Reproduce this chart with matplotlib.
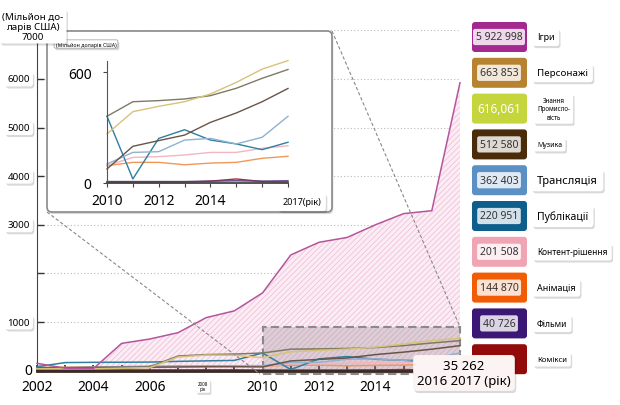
import matplotlib
matplotlib.use("Agg")
import matplotlib.pyplot as plt
import matplotlib.patheffects as pe
from matplotlib.patches import FancyBboxPatch, Rectangle

plt.rcParams['font.family'] = ['Noto Sans', 'DejaVu Sans']
plt.rcParams['hatch.linewidth'] = 0.6

# data (million USD)
YEARS = list(range(2002, 2018))
CATEGORIES = ["Ігри", "Персонажі", "Знання\nПромисло-\nвість", "Музика", "Трансляція",
              "Публікації", "Контент-рішення", "Анімація", "Фільми", "Комікси"]
VALUE_LABELS = ["5 922 998", "663 853", "616,061", "512 580", "362 403",
                "220 951", "201 508", "144 870", "40 726", "35 262"]
GAMES = [150, 50, 40, 560, 650, 780, 1090, 1230, 1600, 2380, 2640, 2740, 3000, 3230, 3290, 5923]
CHARACTERS = [40, 40, 40, 50, 60, 280, 320, 315, 266, 387, 416, 441, 483, 546, 618, 664]
KNOWLEDGE = [30, 30, 30, 40, 80, 300, 330, 340, 362, 441, 447, 456, 474, 514, 568, 616]
MUSIC = [60, 60, 65, 70, 70, 75, 80, 80, 76, 199, 230, 260, 329, 380, 441, 513]
BROADCAST = [50, 60, 70, 80, 90, 95, 100, 100, 103, 166, 170, 233, 242, 212, 248, 362]
PUBLISHING = [80, 165, 170, 172, 175, 190, 200, 210, 362, 22, 242, 289, 233, 212, 181, 221]
CONTENT = [40, 45, 50, 55, 60, 70, 80, 90, 94, 139, 143, 152, 166, 166, 188, 202]
ANIMATION = [60, 70, 75, 80, 85, 90, 90, 95, 94, 112, 112, 99, 108, 112, 134, 145]
FILMS = [10, 10, 10, 12, 12, 12, 14, 14, 8, 8, 8, 8, 10, 12, 10, 12]
COMICS = [5, 5, 5, 6, 6, 6, 6, 6, 4, 4, 4, 5, 10, 22, 8, 6]
SERIES = [GAMES, CHARACTERS, KNOWLEDGE, MUSIC, BROADCAST, PUBLISHING, CONTENT, ANIMATION, FILMS, COMICS]

BOX_COLORS = ['#a3288f', '#b88330', '#c4d63c', '#4a2c0a', '#5b90c4',
              '#0e5e8c', '#f0a5b5', '#f25c05', '#3a1873', '#930a0a']
LINE_COLORS = ['#b4569c', '#d8c27a', '#7d7a63', '#6a5448', '#8fb2d0',
               '#2f7fa0', '#f2b6c2', '#f0975a', '#5a3a80', '#a33030']
NAME_SIZES = [6.5, 7, 4.5, 5, 8, 7.5, 6, 6.5, 6, 5.5]

W, H = 620, 406
shadow = [pe.withSimplePatchShadow(offset=(1, -1.5), shadow_rgbFace='k', alpha=0.15)]


def boxed(axx, x, y, s, size, ha='center', fc='white', ec='none', pad=0.3, z=5, **kw):
    t = axx.text(x, y, s, fontsize=size, ha=ha, va='center', zorder=z,
                 bbox=dict(boxstyle=f'round,pad={pad},rounding_size=0.3', fc=fc, ec=ec, lw=0.5), **kw)
    t.get_bbox_patch().set_path_effects(shadow)
    return t


fig = plt.figure(figsize=(W / 100, H / 100), dpi=100)

# ---- main chart
ax = fig.add_axes([37 / W, (H - 371.6) / H, 423 / W, 340.2 / H], zorder=1)
ax.set_xlim(2002, 2017)
ax.set_ylim(0, 7000)
ax.patch.set_alpha(0)
for k in (1000, 2000, 3000, 4000, 5000, 6000, 7000):
    ax.axhline(k, color='#bbbbbb', lw=0.8, ls=(0, (1, 2)), zorder=0)
ax.fill_between(YEARS, 0, GAMES, facecolor='#fcedf5', edgecolor='#efc2da', hatch='//////', lw=0, zorder=1)
ax.add_patch(Rectangle((2010, -80), 7, 970, fc=(0.55, 0.5, 0.52, 0.28), ec='#8a8a8a',
                       ls=(0, (4, 2)), lw=1.5, clip_on=False, zorder=2))
for vals, c in zip(SERIES[::-1], LINE_COLORS[::-1]):
    ax.plot(YEARS, vals, color=c, lw=1.1, zorder=3, clip_on=False)
for s in ('top', 'right'):
    ax.spines[s].set_visible(False)
ax.spines['left'].set_color('#444444')
ax.spines['bottom'].set_color('#3a2a20')
ax.spines['bottom'].set_linewidth(2)
ax.spines['bottom'].set_zorder(4)
ax.set_xticks(YEARS)
ax.set_xticklabels([str(y) if y in (2002, 2004, 2006, 2010, 2012, 2014) else '' for y in YEARS], fontsize=10)
ax.tick_params(axis='x', direction='in', length=4, width=1.2, color='#3a2a20', pad=6)
ax.set_yticks([0, 1000, 2000, 3000, 4000, 5000, 6000, 7000])
ax.set_yticklabels([])
ax.tick_params(axis='y', direction='in', length=5, width=1, color='#333333')
ax.text(-0.012, 0, '0', transform=ax.get_yaxis_transform(), ha='right', va='center', fontsize=10)
for k in (1000, 3000, 4000, 5000, 6000):
    boxed(ax, -0.043, k, str(k), 7, transform=ax.get_yaxis_transform())

# ---- overlay in pixel coordinates
ov = fig.add_axes([0, 0, 1, 1], zorder=2)
ov.set_xlim(0, W)
ov.set_ylim(H, 0)
ov.axis('off')
ov.patch.set_alpha(0)

ov.plot([332, 460], [32, 328], color='#888888', lw=0.8, ls=(0, (3, 2)), zorder=1)
ov.plot([47, 260], [213, 375], color='#888888', lw=0.8, ls=(0, (3, 2)), zorder=1)
frame = FancyBboxPatch((47, 32), 285, 181, boxstyle='round,pad=0,rounding_size=5',
                       fc='white', ec='#8a8a8a', lw=1.2, zorder=2)
frame.set_path_effects(shadow)
ov.add_patch(frame)

boxed(ov, 33, 27, '(Мільйон до-\nларів США)\n7000', 7, pad=0.3, z=6, linespacing=1.15)
boxed(ov, 203, 387, '2008\nрік', 3.2, pad=0.4, linespacing=1.0)
boxed(ov, 86, 45, '(Мільйон доларів США)', 3.8, ec='#999999', pad=0.3)
boxed(ov, 302, 203, '2017(рік)', 6.5, pad=0.5)

for i, (name, val, c) in enumerate(zip(CATEGORIES, VALUE_LABELS, BOX_COLORS)):
    cy = 38 + i * 35.8
    ov.add_patch(FancyBboxPatch((472, cy - 15), 55, 30, boxstyle='round,pad=0,rounding_size=3',
                                fc=c, ec='none', zorder=3))
    if i == 2:
        ov.text(499, cy, val, fontsize=8.5, color='white', ha='center', va='center', zorder=4)
    elif i < 9:
        ov.text(499, cy, val, fontsize=7.5, color='#333333', ha='center', va='center', zorder=4,
                bbox=dict(boxstyle='round,pad=0.25,rounding_size=0.2', fc=(1, 1, 1, 0.82), ec='none'))
    boxed(ov, 537, cy, name, NAME_SIZES[i], ha='left', pad=0.5, z=4,
          linespacing=1.3, multialignment='center')

boxed(ov, 464, 374, f'{VALUE_LABELS[9]}\n2016 2017 (рік)', 9.5, fc='#fbf4f3', pad=0.3, z=8,
      linespacing=1.2)

# ---- inset
axi = fig.add_axes([107 / W, (H - 184) / H, 181 / W, 122 / H], zorder=3)
axi.patch.set_alpha(0)
axi.set_xlim(2010, 2017)
axi.set_ylim(0, 662)
inset_years = YEARS[8:]
for vals, c in zip(SERIES[1:][::-1], LINE_COLORS[1:][::-1]):
    axi.plot(inset_years, vals[8:], color=c, lw=1.0, clip_on=False)
for s in ('top', 'right'):
    axi.spines[s].set_visible(False)
axi.spines['left'].set_color('#555555')
axi.spines['bottom'].set_color('#444444')
axi.spines['bottom'].set_linewidth(1.3)
axi.set_xticks(inset_years)
axi.set_xticklabels([str(y) if y in (2010, 2012, 2014) else '' for y in inset_years], fontsize=10)
axi.tick_params(axis='x', direction='out', length=3, color='#444444', pad=4)
axi.set_yticks([0, 600])
axi.set_yticklabels(['0', '600'], fontsize=10)
axi.tick_params(axis='y', direction='out', length=3, color='#444444', pad=8)

fig.savefig('out.png', dpi=100)
